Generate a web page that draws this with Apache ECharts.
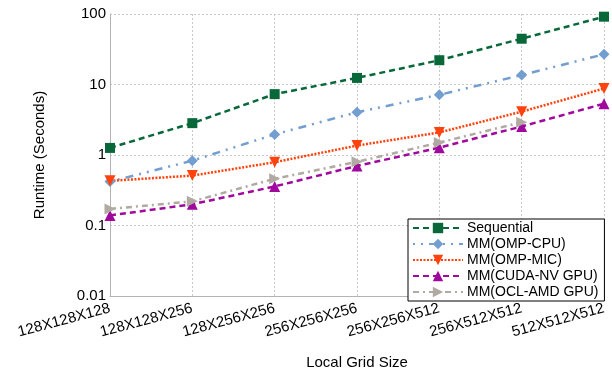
<!DOCTYPE html>
<html><head><meta charset="utf-8">
<script src="https://cdn.jsdelivr.net/npm/echarts@6/dist/echarts.min.js"></script>
<style>html,body{margin:0;padding:0;background:#fff}#c{width:612px;height:375px}</style>
</head><body><div id="c"></div>
<script>
const categories = ['128X128X128','128X128X256','128X256X256','256X256X256','256X256X512','256X512X512','512X512X512'];
const sequential = [1.26, 2.83, 7.3, 12.4, 22.1, 44.6, 91.6];
const ompCpu = [0.42, 0.83, 1.96, 4.04, 7.14, 13.6, 26.8];
const ompMic = [0.43, 0.51, 0.79, 1.36, 2.09, 4.12, 8.77];
const cudaNv = [0.139, 0.20, 0.358, 0.70, 1.27, 2.54, 5.34];
const oclAmd = [0.172, 0.22, 0.46, 0.80, 1.50, 2.92, null];
const seriesNames = ['Sequential','MM(OMP-CPU)','MM(OMP-MIC)','MM(CUDA-NV GPU)','MM(OCL-AMD GPU)'];

const TRI_DOWN = 'path://M0,0L10,0L5,9Z';
const TRI_UP = 'path://M5,0L10,9L0,9Z';
const TRI_RIGHT = 'path://M0,0L9,5L0,10Z';
const symbols = ['rect', 'diamond', TRI_DOWN, TRI_UP, TRI_RIGHT];

const font = 'Liberation Sans, Arial, sans-serif';
function mk(name, data, color, symbol, dash, size) {
  return {
    name, type: 'line', data, symbol, symbolSize: size,
    connectNulls: false,
    lineStyle: { color, width: 2.5, type: dash },
    itemStyle: { color },
    z: 3
  };
}
const chart = echarts.init(document.getElementById('c'), null, {renderer: 'canvas'});
chart.setOption({
  animation: false,
  textStyle: { fontFamily: font },
  grid: { left: 110, right: 8, top: 14, bottom: 76 },
  xAxis: {
    type: 'category', data: categories, boundaryGap: false,
    name: 'Local Grid Size', nameLocation: 'middle', nameGap: 59,
    nameTextStyle: { fontSize: 15, color: '#000', fontFamily: font },
    axisLine: { lineStyle: { color: '#b3b3b3' } },
    axisTick: { show: false },
    axisLabel: { rotate: 15, fontSize: 15, color: '#000', margin: 12, fontFamily: font, interval: 0 },
    splitLine: { show: true, lineStyle: { color: '#c8c8c8', type: [2, 2] } }
  },
  yAxis: {
    type: 'log', logBase: 10, min: 0.01, max: 100,
    name: 'Runtime (Seconds)', nameLocation: 'middle', nameGap: 63,
    nameTextStyle: { fontSize: 15, color: '#000', fontFamily: font },
    axisLine: { show: true, lineStyle: { color: '#b3b3b3' } },
    axisTick: { show: false },
    axisLabel: { fontSize: 15, color: '#000', margin: 4, fontFamily: font,
      formatter: v => String(+v.toPrecision(3)) },
    splitLine: { show: true, lineStyle: { color: '#c8c8c8', type: [2, 2] } }
  },
  legend: {
    orient: 'vertical', left: 408, top: 219,
    backgroundColor: '#fff', borderColor: '#000', borderWidth: 1,
    padding: [1, 6, 1, 4], itemGap: 0, itemWidth: 50, itemHeight: 13,
    textStyle: { fontSize: 14, color: '#000', fontFamily: font, lineHeight: 16, padding: [0,0,0,-1] },
    data: seriesNames
  },
  series: [
    mk(seriesNames[0], sequential, '#08683a', symbols[0], [6, 4], 10),
    mk(seriesNames[1], ompCpu, '#729fcf', symbols[1], [2, 6, 2, 6, 8, 6], 11),
    mk(seriesNames[2], ompMic, '#ff420e', symbols[2], [2, 1.5], 11),
    mk(seriesNames[3], cudaNv, '#a0089e', symbols[3], [6, 4], 11),
    mk(seriesNames[4], oclAmd, '#b0aaa2', symbols[4], [6, 4, 2, 4], 11)
  ]
});
</script></body></html>
